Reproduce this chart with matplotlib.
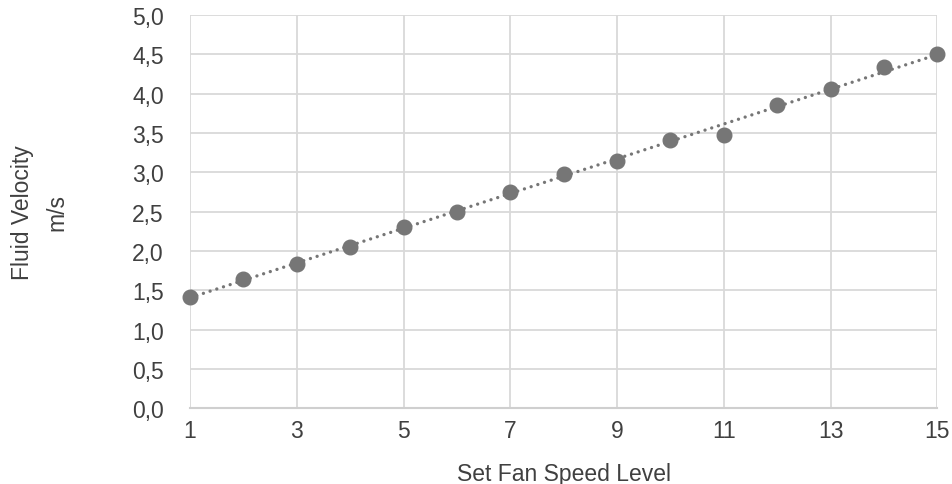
import numpy as np
import matplotlib
matplotlib.use('Agg')
import matplotlib.pyplot as plt
from matplotlib.ticker import FuncFormatter

plt.rcParams['font.family'] = ['Liberation Sans', 'DejaVu Sans']

fan_level = [1, 2, 3, 4, 5, 6, 7, 8, 9, 10, 11, 12, 13, 14, 15]
velocity = [1.42, 1.65, 1.83, 2.05, 2.31, 2.50, 2.75, 2.98, 3.15, 3.41, 3.47, 3.85, 4.06, 4.34, 4.51]
x_ticks = [1, 3, 5, 7, 9, 11, 13, 15]
y_ticks = [0, 0.5, 1, 1.5, 2, 2.5, 3, 3.5, 4, 4.5, 5]

text_col = '#404040'
mark_col = '#767676'
grid_col = '#d9d9d9'

fig = plt.figure(figsize=(9.52, 4.85), dpi=100)
ax = fig.add_axes([0.1996, 0.156, 0.7850, 0.811])

# linear trendline
k, b = np.polyfit(fan_level, velocity, 1)
xs = np.array([fan_level[0], fan_level[-1]])
ax.plot(xs, k * xs + b, color=mark_col, lw=2.4, linestyle=(0, (0.01, 2.1)),
        dash_capstyle='round', zorder=3, clip_on=False)
ax.plot(fan_level, velocity, 'o', color=mark_col, markersize=10.5, zorder=4, clip_on=False)

ax.set_xlim(1, 15)
ax.set_ylim(0, 5)
ax.set_xticks(x_ticks)
ax.set_yticks(y_ticks)
ax.yaxis.set_major_formatter(FuncFormatter(lambda v, p: f'{v:.1f}'.replace('.', ',')))
ax.grid(True, color=grid_col, lw=1.3, zorder=0)
ax.set_axisbelow(True)
for s in ['top', 'right', 'left']:
    ax.spines[s].set_visible(False)
ax.spines['bottom'].set_color('#cfcfcf')
ax.spines['bottom'].set_linewidth(1.5)
ax.tick_params(length=0, labelsize=16.5, labelcolor=text_col)
ax.tick_params(axis='y', pad=19)
ax.tick_params(axis='x', pad=8)

ax.set_xlabel('Set Fan Speed Level', fontsize=16.5, color=text_col, labelpad=14)
ax.set_ylabel('Fluid Velocity\nm/s', fontsize=16.5, color=text_col, labelpad=46,
              linespacing=1.6)

plt.savefig('out.png', dpi=100)
